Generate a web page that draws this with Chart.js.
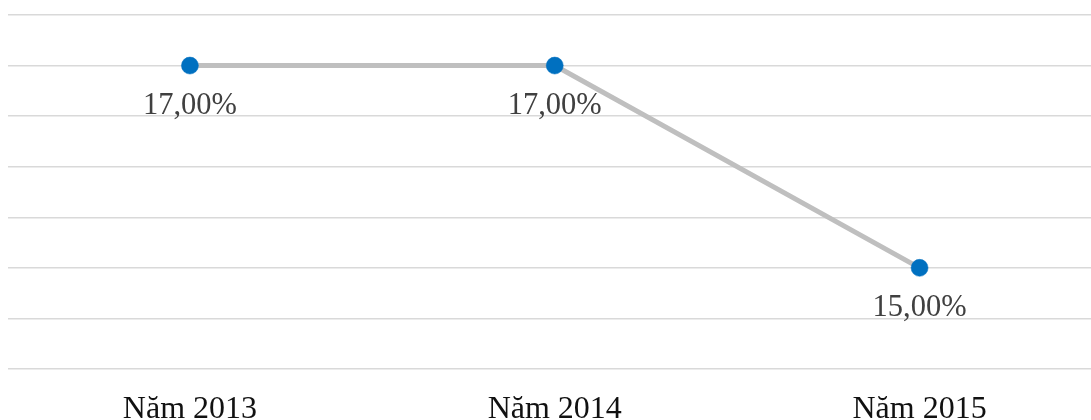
<!DOCTYPE html>
<html lang="vi">
<head>
    <meta charset="UTF-8">
    <title>Tỷ lệ theo năm</title>
    <script src="https://cdn.jsdelivr.net/npm/chart.js"></script>
    <style>
        html, body { margin: 0; padding: 0; background: #fff; overflow: hidden; }
        canvas { display: block; }
    </style>
</head>
<body>
    <!-- a bit larger than the window: the plot is cut at the right and bottom edges -->
    <canvas id="rateChart" width="1102" height="450"></canvas>

    <script>
        const years = ['Năm 2013', 'Năm 2014', 'Năm 2015'];
        const rates = [17, 17, 15];
        const yMin = 14;
        const yMax = 17.5;
        const yStep = 0.5;

        const serif = '"Liberation Serif", "Times New Roman", serif';
        const fmt = v => v.toFixed(2).replace('.', ',') + '%';

        // labels under each point
        const pointLabels = {
            id: 'pointLabels',
            afterDatasetsDraw(chart) {
                const ctx = chart.ctx;
                const meta = chart.getDatasetMeta(0);
                ctx.save();
                ctx.font = '30.5px ' + serif;
                ctx.fillStyle = '#404040';
                ctx.textAlign = 'center';
                ctx.textBaseline = 'middle';
                meta.data.forEach((pt, i) => {
                    ctx.fillText(fmt(rates[i]), pt.x, pt.y + 40);
                });
                ctx.restore();
            }
        };

        new Chart(document.getElementById('rateChart'), {
            type: 'line',
            data: {
                labels: years,
                datasets: [{
                    data: rates,
                    borderColor: '#BFBFBF',
                    borderWidth: 5,
                    pointBackgroundColor: '#0070C0',
                    pointBorderColor: '#0070C0',
                    pointRadius: 8.5,
                    pointBorderWidth: 0.5,
                    tension: 0
                }]
            },
            options: {
                responsive: false,
                animation: false,
                layout: { autoPadding: false, padding: { left: 7.5, right: 0, top: 15, bottom: 0 } },
                plugins: { legend: { display: false }, tooltip: { enabled: false } },
                scales: {
                    x: {
                        offset: true,
                        grid: { display: false, drawTicks: false, tickLength: 0 },
                        border: { display: false },
                        ticks: {
                            padding: 21.3,
                            color: '#111',
                            maxRotation: 0,
                            font: { family: serif, size: 32 }
                        }
                    },
                    y: {
                        min: yMin,
                        max: yMax,
                        grid: { color: '#D9D9D9', lineWidth: 1.5, drawTicks: false, tickLength: 0 },
                        border: { display: false },
                        ticks: { display: false, stepSize: yStep }
                    }
                }
            },
            plugins: [pointLabels]
        });
    </script>
</body>
</html>
